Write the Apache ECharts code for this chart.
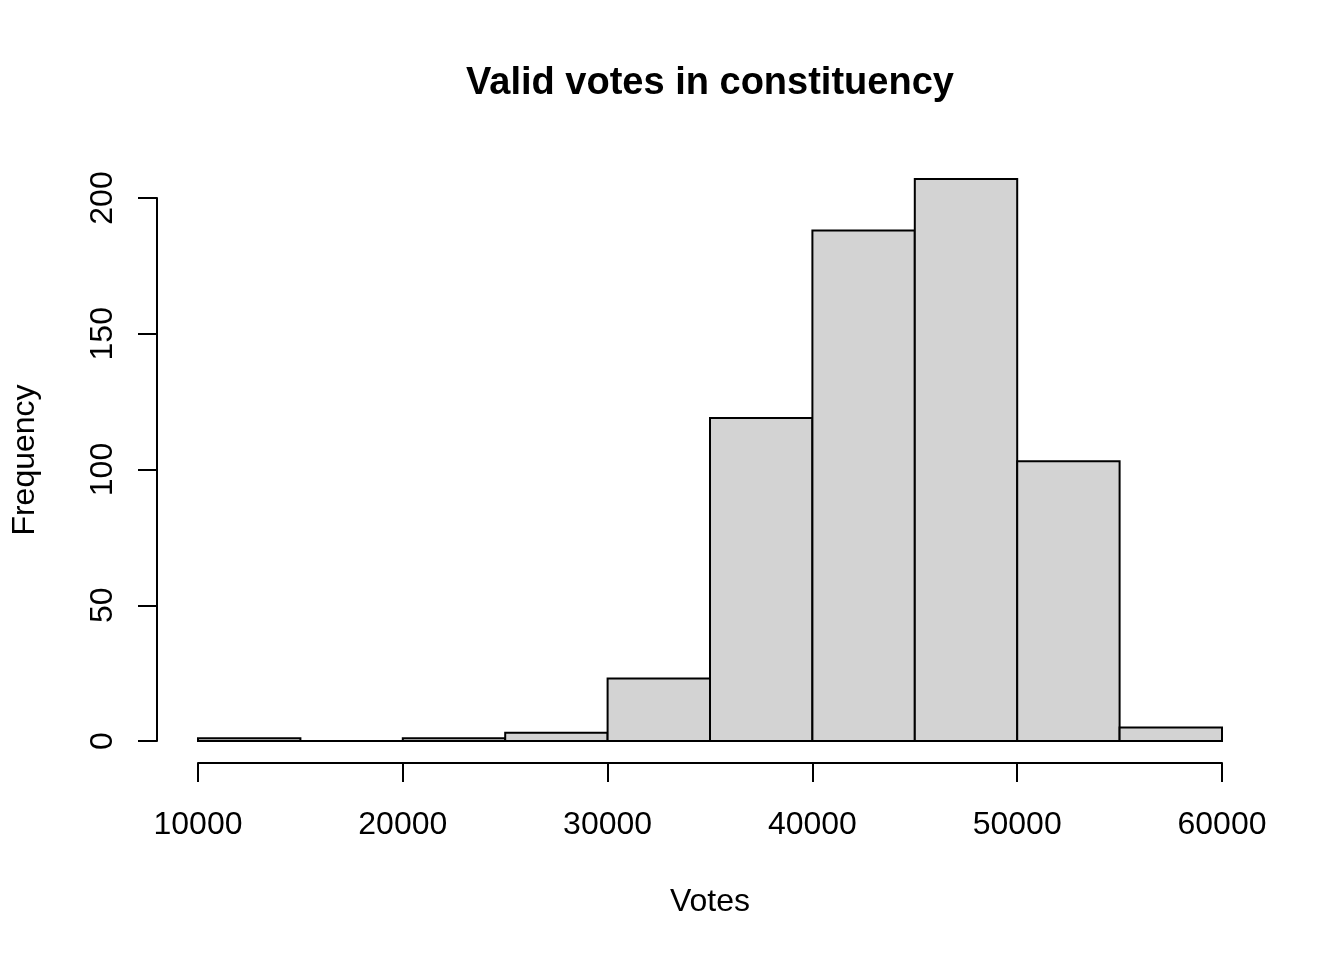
<!DOCTYPE html>
<html><head><meta charset="utf-8">
<script src="https://cdn.jsdelivr.net/npm/echarts@6/dist/echarts.min.js"></script>
<style>html,body{margin:0;padding:0;background:#fff}#c{width:1344px;height:960px}</style>
</head><body><div id="c"></div>
<script>
const binStarts = [10000,15000,20000,25000,30000,35000,40000,45000,50000,55000];
const binWidth = 5000;
const counts = [1,0,1,3,23,119,188,207,103,5];
const xTicks = [10000,20000,30000,40000,50000,60000];
const yTicks = [0,50,100,150,200];
const titleText = 'Valid votes in constituency';
const xLabel = 'Votes';
const yLabel = 'Frequency';

const data = binStarts.map((s,i)=>[s, s+binWidth, counts[i]]);
const FONT = 'Liberation Sans, Arial, sans-serif';
const chart = echarts.init(document.getElementById('c'));
chart.setOption({
  animation:false,
  backgroundColor:'#fff',
  grid:{left:198,right:122,top:198,bottom:219},
  graphic:[
    {type:'text',x:710,y:84,style:{text:titleText,font:'bold 38px '+FONT,fill:'#000',textAlign:'center',textVerticalAlign:'middle'}},
    {type:'text',x:710,y:902,style:{text:xLabel,font:'32px '+FONT,fill:'#000',textAlign:'center',textVerticalAlign:'middle'}},
    {type:'text',x:25,y:460,rotation:Math.PI/2,style:{text:yLabel,font:'32px '+FONT,fill:'#000',textAlign:'center',textVerticalAlign:'middle'}}
  ],
  xAxis:{type:'value',min:xTicks[0],max:xTicks[xTicks.length-1],interval:10000,offset:22,
    axisLine:{show:true,onZero:false,lineStyle:{color:'#000',width:2}},
    axisTick:{show:true,length:19,lineStyle:{color:'#000',width:2}},
    splitLine:{show:false},
    axisLabel:{color:'#000',fontSize:32,fontFamily:FONT,margin:46,formatter:v=>String(v)}},
  yAxis:{type:'value',min:yTicks[0],max:yTicks[yTicks.length-1],interval:50,offset:41,
    axisLine:{show:true,onZero:false,lineStyle:{color:'#000',width:2}},
    axisTick:{show:true,length:19,lineStyle:{color:'#000',width:2}},
    splitLine:{show:false},
    axisLabel:{color:'#000',fontSize:32,fontFamily:FONT,margin:38,rotate:90,formatter:v=>String(v)}},
  series:[{type:'custom',data:data,clip:false,
    renderItem:function(params,api){
      const p0 = api.coord([api.value(0), 0]);
      const p1 = api.coord([api.value(1), api.value(2)]);
      return {type:'rect',shape:{x:p0[0],y:p1[1],width:p1[0]-p0[0],height:p0[1]-p1[1]},
        style:{fill:'#D3D3D3',stroke:'#000',lineWidth:2}};
    }}]
});
</script></body></html>
